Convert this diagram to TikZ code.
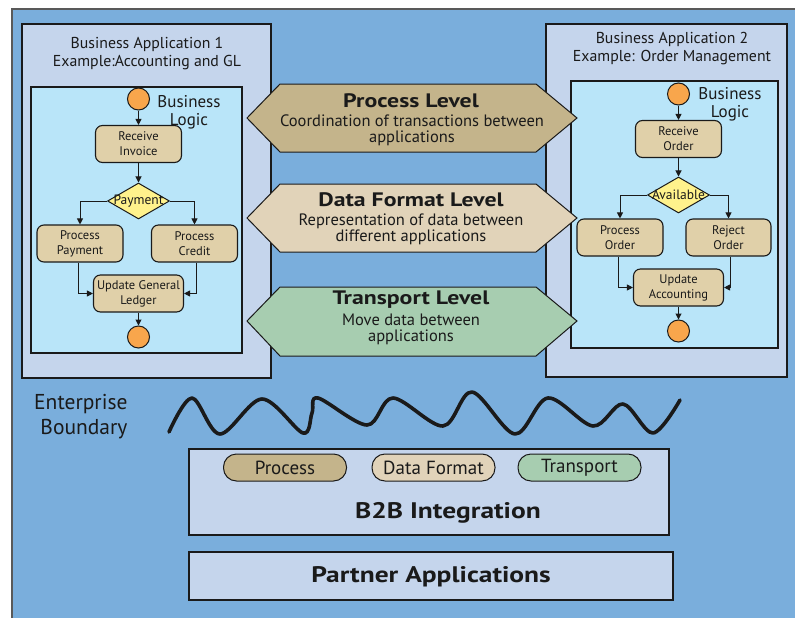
\documentclass[tikz,border=0pt]{standalone}
\usepackage{fontspec}
\setmainfont{PT Sans}
\newfontfamily\hdfont{PT Sans}[FakeStretch=1.22]
\usetikzlibrary{shapes.geometric,arrows.meta}

\definecolor{bgblue}{HTML}{7AAEDC}
\definecolor{lav}{HTML}{C5D5EC}
\definecolor{skyin}{HTML}{B9E5F9}
\definecolor{proctan}{HTML}{C4B48B}
\definecolor{datab}{HTML}{E1D3B9}
\definecolor{transg}{HTML}{A7CDB0}
\definecolor{acttan}{HTML}{E0D0A9}
\definecolor{orng}{HTML}{F8A64C}
\definecolor{yel}{HTML}{FFF28C}
\definecolor{ink}{HTML}{1A1A1A}

\newcommand\fsz[2]{\fontsize{#1}{#2}\selectfont}

\tikzset{
  appbox/.style={draw=ink, fill=lav, line width=1.3pt},
  logicbox/.style={draw=ink, fill=skyin, line width=1.3pt},
  act/.style={draw=ink, fill=acttan, rounded corners=7pt, line width=1.1pt,
    minimum width=86pt, minimum height=37pt, align=center, inner sep=1pt,
    text=ink, font=\fsz{12.5}{15}},
  dec/.style={diamond, draw=ink, fill=yel, line width=1pt, inner sep=0pt,
    minimum width=62pt, minimum height=36pt},
  declab/.style={font=\fsz{13.5}{15}, text=ink},
  startend/.style={circle, draw=ink, fill=orng, line width=1pt,
    minimum size=22pt, inner sep=0pt},
  arr/.style={draw=ink, line width=1pt, -{Triangle[length=6pt,width=6pt]}},
  hex/.style={draw=ink, line width=1pt},
  lvltitle/.style={font=\hdfont\bfseries\fsz{19.5}{21}, text=ink},
  lvlbody/.style={font=\fsz{16.5}{16}, text=ink, align=center},
  apptitle/.style={font=\fsz{15.8}{18}, text=ink, align=center},
  logictxt/.style={font=\fsz{17}{18}, text=ink, align=center},
  pill/.style={draw=ink, line width=1pt, rounded corners=13pt,
    minimum width=123pt, minimum height=27pt, inner sep=0pt,
    font=\fsz{19}{20}, text=ink},
  band/.style={draw=ink, fill=lav, line width=1.1pt},
  bandtxt/.style={font=\hdfont\bfseries\fsz{22.5}{24}, text=ink},
}

\begin{document}
\begin{tikzpicture}[x=1pt,y=-1pt]
\useasboundingbox (0,0) rectangle (795,618);
\fill[white] (0,0) rectangle (795,618);
\draw[draw=black!65, fill=bgblue, line width=1.3pt] (12,9) rectangle (812,632);

% ---------- Business application 1 ----------
\draw[appbox] (22,24) rectangle (271,378);
\node[apptitle] (app1) at (147,54) {Business Application 1\\Example:Accounting and GL};
\draw[logicbox] (31,87) rectangle (242,353);

\node[startend] (s1) at (138.5,99) {};
\node[act] (ri1) at (138.5,144) {Receive\\Invoice};
\node[dec, label={[declab]center:Payment}] (d1) at (138.5,201) {};
\node[act] (pp1) at (80,243.5) {Process\\Payment};
\node[act] (pc1) at (194.5,243.5) {Process\\Credit};
\node[act, minimum width=90pt] (ug1) at (138.5,293.5) {Update General\\Ledger};
\node[startend] (e1) at (138.5,337) {};
\node[logictxt] (bl1) at (189,112) {Business\\Logic};

\draw[arr] (s1) -- (ri1);
\draw[arr] (ri1) -- (d1);
\draw[arr] (d1.west) -| (pp1.north);
\draw[arr] (d1.east) -| (pc1.north);
\draw[arr] ([xshift=-2pt]pp1.south) |- (ug1.west);
\draw[arr] ([xshift=2pt]pc1.south) |- (ug1.east);
\draw[arr] (ug1) -- (e1);

% ---------- Business application 2 ----------
\draw[appbox] (546,24) rectangle (787,377);
\node[apptitle] (app2) at (672,49) {Business Application 2\\Example: Order Management};
\draw[logicbox] (571,81) rectangle (778,348);

\node[startend] (s2) at (678.5,94) {};
\node[act] (ri2) at (678.5,139) {Receive\\Order};
\node[dec, label={[declab]center:Available}] (d2) at (678.5,195) {};
\node[act] (po2) at (620,237.5) {Process\\Order};
\node[act, minimum width=85pt] (ro2) at (728.5,237.5) {Reject\\Order};
\node[act, minimum width=90pt] (ua2) at (678.5,287.5) {Update\\Accounting};
\node[startend] (e2) at (678.5,331) {};
\node[logictxt] (bl2) at (730,104) {Business\\Logic};

\draw[arr] (s2) -- (ri2);
\draw[arr] (ri2) -- (d2);
\draw[arr] (d2.west) -| (po2.north);
\draw[arr] (d2.east) -| (ro2.north);
\draw[arr] ([xshift=-2pt]po2.south) |- (ua2.west);
\draw[arr] ([xshift=2pt]ro2.south) |- (ua2.east);
\draw[arr] (ua2) -- (e2);

% ---------- Integration levels ----------
\draw[hex, fill=proctan] (247,118) -- (280,84) -- (536,84) -- (577,118)
  -- (536,152) -- (280,152) -- cycle;
\node[lvltitle] (plt) at (411,101) {Process Level};
\node[lvlbody] (plb) at (412,130) {Coordination of transactions between\\applications};

\draw[hex, fill=datab] (247,218) -- (280,184) -- (536,184) -- (577,218)
  -- (536,252) -- (280,252) -- cycle;
\node[lvltitle] (dlt) at (411,200) {Data Format Level};
\node[lvlbody] (dlb) at (411,229) {Representation of data between\\different applications};

\draw[hex, fill=transg] (247,321) -- (280,287) -- (536,287) -- (577,321)
  -- (536,356) -- (280,356) -- cycle;
\node[lvltitle] (tlt) at (411,300) {Transport Level};
\node[lvlbody] (tlb) at (411,329) {Move data between\\applications};

% ---------- Enterprise boundary ----------
\node[font=\fsz{21.5}{25}, text=ink, align=right, anchor=east] (eb) at (131,417) {Enterprise\\Boundary};
\draw[ink, line width=3.6pt, line cap=round, line join=round]
  plot[smooth, tension=0.55] coordinates {
    (169,432) (192,398) (220,434) (262,399) (303,433) (312,413) (318,398)
    (367,425) (393,398) (443,426) (472,392) (515,434) (548,398)
    (593,426) (623,404) (653,433) (680,400)};

% ---------- B2B integration and partners ----------
\draw[band] (189,449) rectangle (669,535);
\node[pill, fill=proctan] (pp) at (285,467.5) {Process};
\node[pill, fill=datab] (pd) at (433.5,467.5) {Data Format};
\node[pill, fill=transg] (pt) at (579.5,467.5) {Transport};
\node[bandtxt] (b2b) at (448,513) {B2B Integration};

\draw[band] (189,552) rectangle (673,600);
\node[bandtxt] (pa) at (431,577) {Partner Applications};
\end{tikzpicture}
\end{document}
